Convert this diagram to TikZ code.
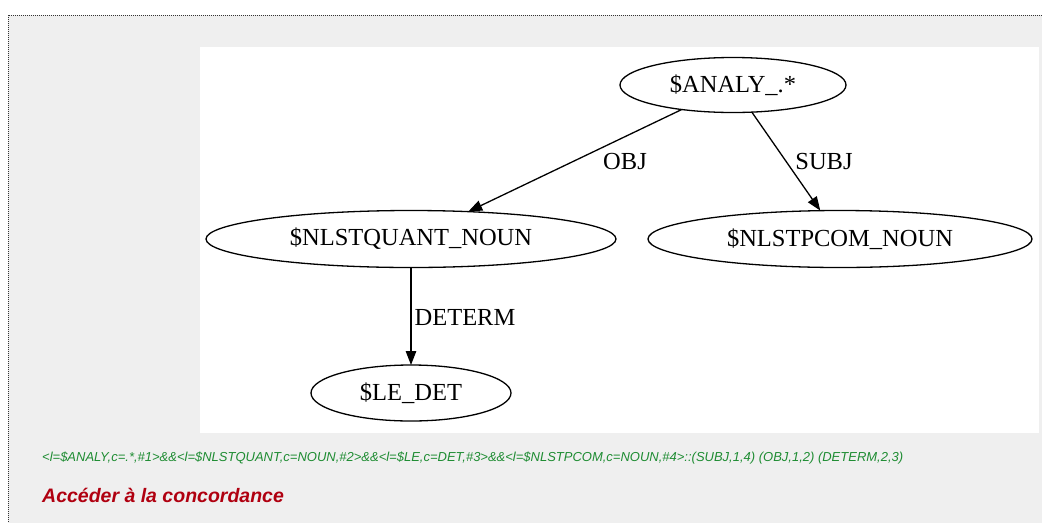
\documentclass[tikz,border=0pt]{standalone}
\usepackage{fontspec}
\setmainfont{Liberation Serif}
\newfontfamily\arialfont{Liberation Sans}
\usetikzlibrary{arrows.meta}
\usetikzlibrary{shapes.geometric}
\definecolor{pagegray}{HTML}{EFEFEF}
\definecolor{reqgreen}{HTML}{1E8C32}
\definecolor{linkred}{HTML}{B00010}

\begin{document}
\begin{tikzpicture}[
    x=1pt, y=-1pt,
    word/.style={ellipse, draw, line width=1.3pt, inner sep=0pt, outer sep=0pt,
        minimum height=57pt, font=\fontsize{24.5}{28}\selectfont},
    rel/.style={inner sep=0pt, font=\fontsize{24.5}{28}\selectfont},
    dep/.style={-{Triangle[length=14pt,width=10.5pt]}, line width=1.3pt},
    linktext/.style={anchor=west, inner sep=0pt,
        font=\arialfont\bfseries\itshape\fontsize{19.5}{22}\selectfont}
]
    % Background
    \useasboundingbox (0,0) rectangle (1042,523);
    \fill[white] (0,0) rectangle (1042,523);
    \fill[pagegray] (8,15) rectangle (1042,523);
    \draw[densely dotted, gray!40!black, line width=1pt] (1042,15) -- (8,15) -- (8,523);
    \fill[white] (200,47) rectangle (1039,433);

    % Nodes
    \node[word, minimum width=226pt, minimum height=55pt] (analy) at (733,85) {\$ANALY\_.*};
    \node[word, minimum width=410pt] (quant) at (411,239) {\$NLSTQUANT\_NOUN};
    \node[word, minimum width=384pt] (pcom) at (840,239) {\$NLSTPCOM\_NOUN};
    \node[word, minimum width=200pt, minimum height=56pt] (ledet) at (411,393) {\$LE\_DET};

    % Edges
    \draw[dep] (analy) -- (quant);
    \draw[dep] (analy) -- (pcom);
    \draw[dep] (quant) -- (ledet);
    \node[rel] (obj) at (625,162) {OBJ};
    \node[rel] (subj) at (824,162) {SUBJ};
    \node[rel] (determ) at (465,317) {DETERM};

    % Query and link
    \node[anchor=west, inner sep=0pt, text=reqgreen, font=\arialfont\itshape\fontsize{11}{13}\selectfont]
        (req) at (42,458) {\resizebox{861pt}{!}{<l=\$ANALY,c=.*,\#1>\&\&<l=\$NLSTQUANT,c=NOUN,\#2>\&\&<l=\$LE,c=DET,\#3>\&\&<l=\$NLSTPCOM,c=NOUN,\#4>::(SUBJ,1,4) (OBJ,1,2) (DETERM,2,3)}};
    \node[linktext, text=linkred] (link) at (42,495) {Accéder à la concordance};
\end{tikzpicture}
\end{document}
